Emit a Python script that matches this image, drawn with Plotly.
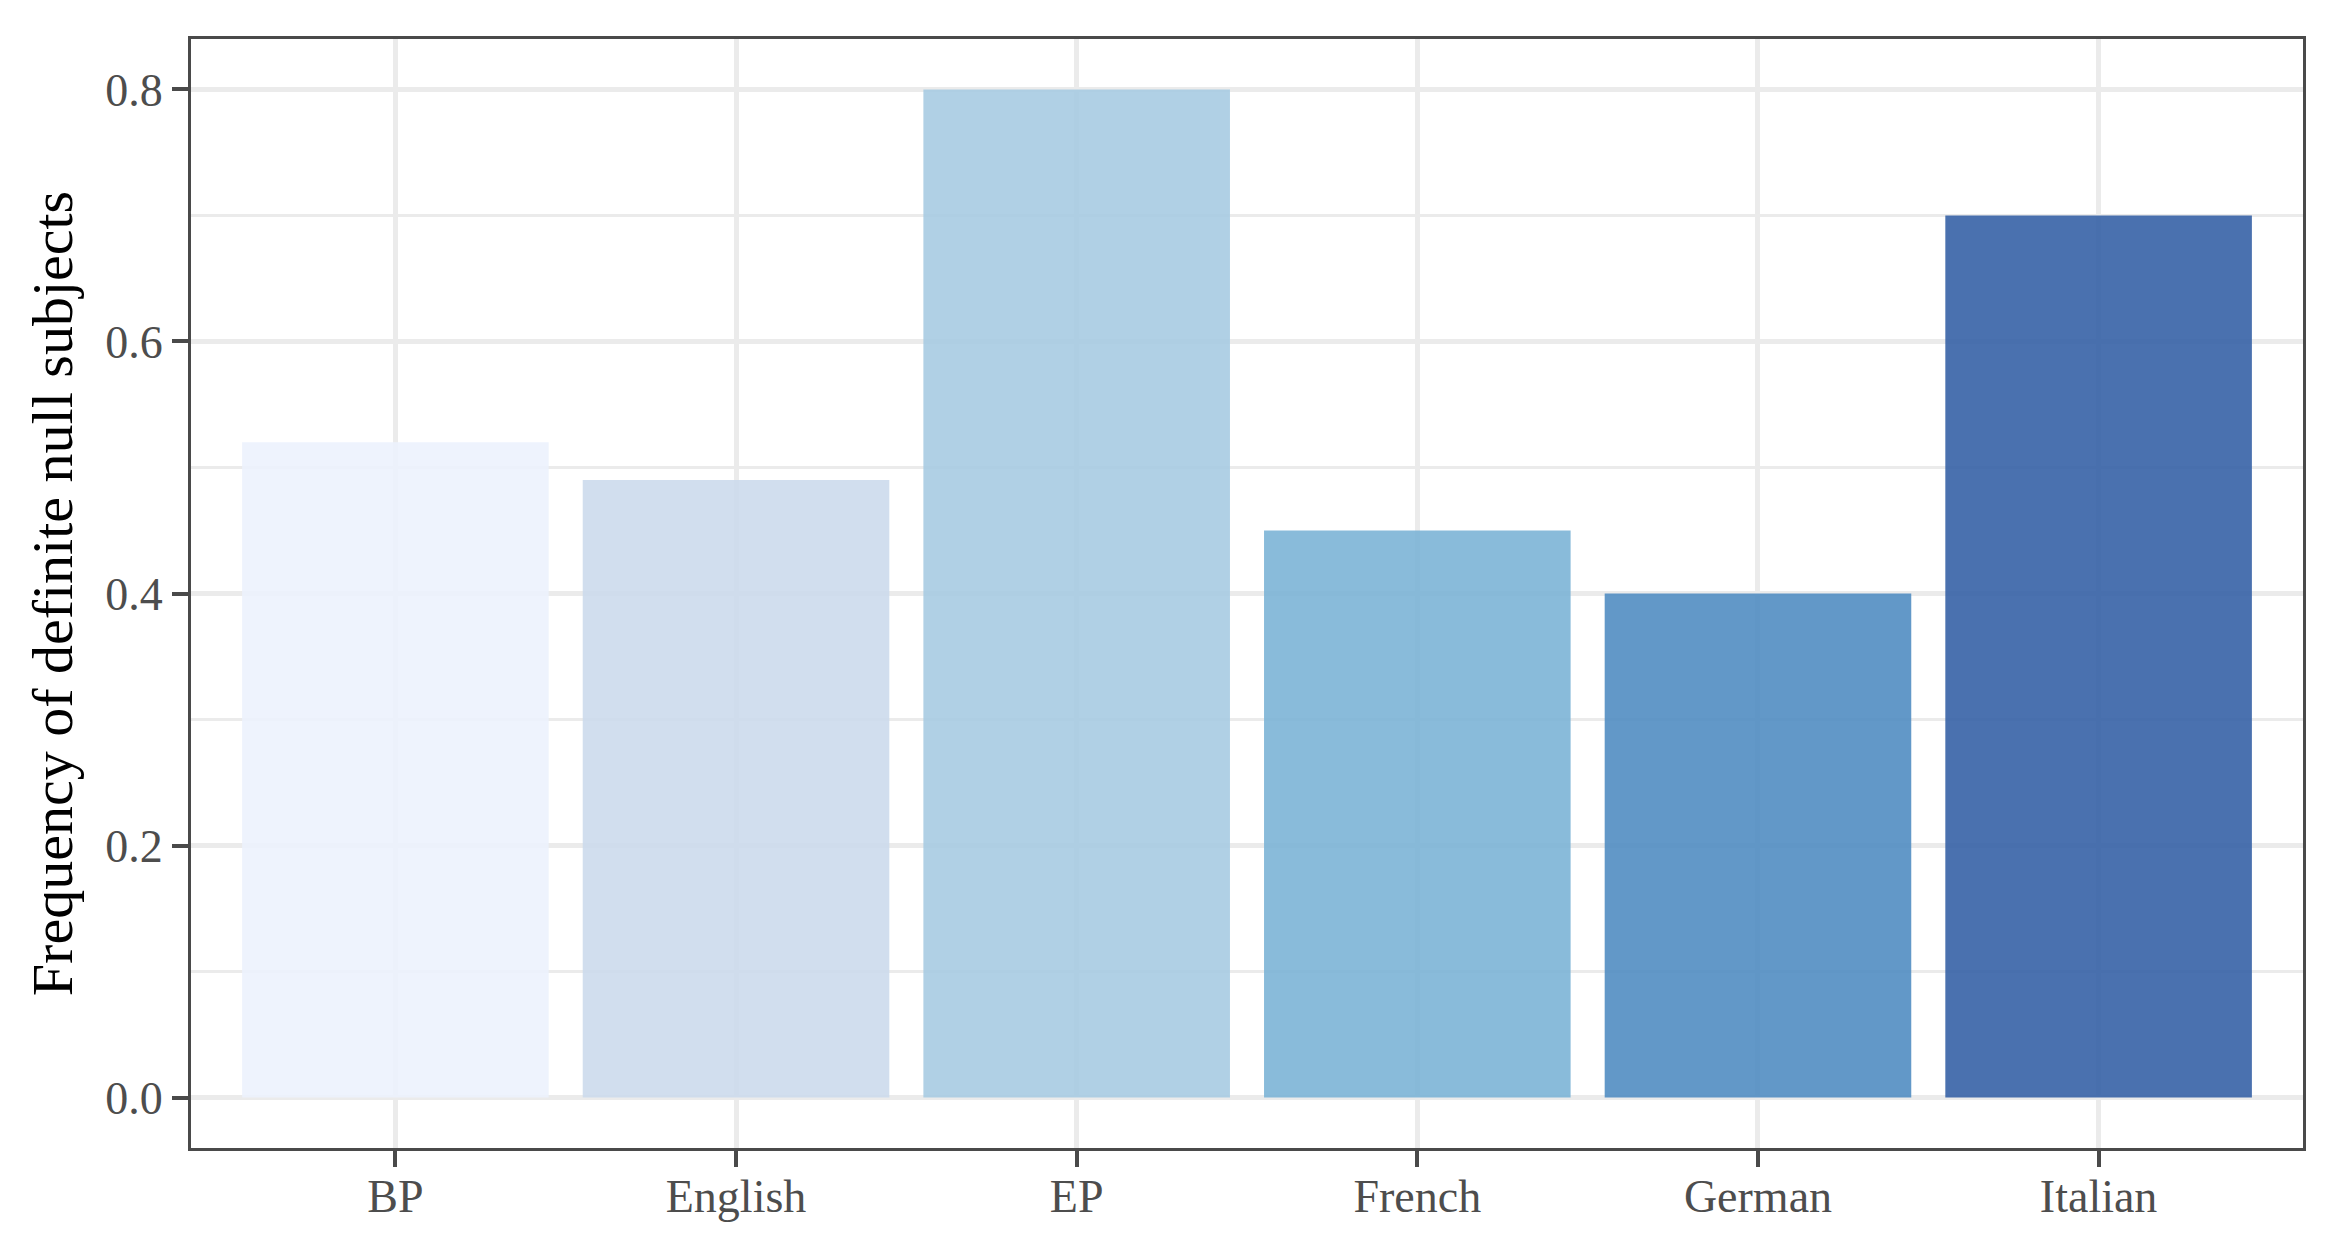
import plotly.graph_objects as go

languages = ["BP", "English", "EP", "French", "German", "Italian"]
frequency = [0.52, 0.49, 0.80, 0.45, 0.40, 0.70]
bar_colors = ["rgba(236,242,253,0.9)", "rgba(204,218,236,0.9)", "rgba(167,203,226,0.9)",
              "rgba(124,180,214,0.9)", "rgba(81,141,194,0.9)", "rgba(54,98,166,0.9)"]
y_ticks = [0.0, 0.2, 0.4, 0.6, 0.8]
y_tick_labels = ["0.0", "0.2", "0.4", "0.6", "0.8"]

fig = go.Figure()
fig.add_trace(go.Bar(
    x=languages, y=frequency,
    marker=dict(color=bar_colors, line=dict(width=0)),
    width=0.9,
))

border = "#4A4A4A"
grid = "#EBEBEB"
font_family = "Liberation Serif"

fig.update_layout(
    width=2341, height=1244,
    margin=dict(l=183, r=46, t=31, b=104, autoexpand=False),
    paper_bgcolor="white", plot_bgcolor="white",
    showlegend=False,
    font=dict(family=font_family, color="#4D4D4D", size=46),
    xaxis=dict(
        range=[-0.6, 5.6],
        showgrid=True, gridcolor=grid, gridwidth=5,
        showline=True, linecolor=border, linewidth=3, mirror=True,
        ticks="outside", ticklen=16, tickwidth=4, tickcolor=border,
        ticklabelstandoff=-10,
        tickfont=dict(family=font_family, size=46, color="#4D4D4D"),
        zeroline=False,
    ),
    yaxis=dict(
        range=[-0.04, 0.84],
        tickvals=y_ticks, ticktext=y_tick_labels,
        showgrid=True, gridcolor=grid, gridwidth=5,
        minor=dict(dtick=0.1, tick0=0, showgrid=True, gridcolor=grid, gridwidth=2.5, ticks=""),
        showline=True, linecolor=border, linewidth=3, mirror=True,
        ticks="outside", ticklen=16, tickwidth=4, tickcolor=border,
        tickfont=dict(family=font_family, size=46, color="#4D4D4D"),
        zeroline=False,
        title=dict(text="Frequency of definite null subjects",
                   font=dict(family=font_family, size=58, color="black"),
                   standoff=14),
    ),
)

fig.write_html("out.html")
